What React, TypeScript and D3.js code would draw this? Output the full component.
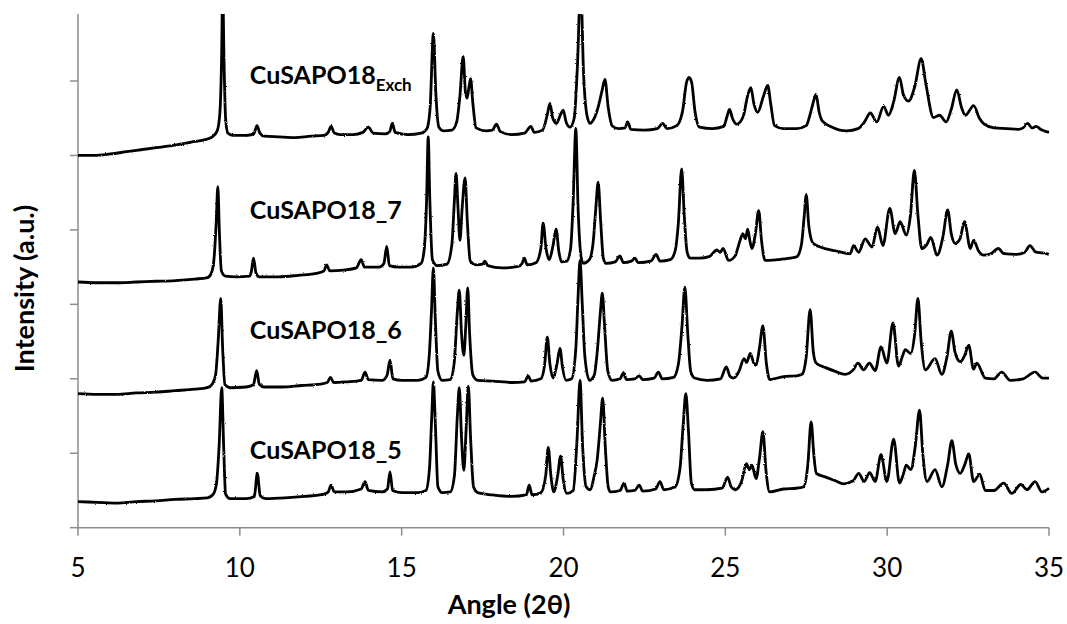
import React from 'react';
import * as d3 from 'd3';

type P = [number, number];

// Angle (2θ) tick labels
const xTicks = [5, 10, 15, 20, 25, 30, 35];
// Intensity ticks (unlabelled)
const yTicks = [0, 1, 2, 3, 4, 5, 6];

// Series names
const names = ['CuSAPO18_5', 'CuSAPO18_6', 'CuSAPO18_7', 'CuSAPO18Exch'];

// Stacked patterns: [2θ, intensity (a.u., offset included)]
const cuSapo18_5: P[] = [
  [5.0,0.35],[5.6,0.34],[6.2,0.33],[6.8,0.35],[7.4,0.36],[8.0,0.38],[8.6,0.39],[9.0,0.40],[9.18,0.45],[9.28,0.6],[9.36,1.1],[9.44,1.88],[9.5,1.1],[9.56,0.45],[9.7,0.39],
  [10.2,0.39],[10.45,0.42],[10.54,0.73],[10.63,0.43],[10.8,0.39],[11.4,0.40],[12.0,0.42],[12.6,0.45],[12.73,0.48],[12.82,0.57],[12.92,0.48],[13.3,0.48],[13.75,0.52],[13.87,0.62],[13.97,0.50],
  [14.4,0.48],[14.56,0.52],[14.64,0.75],[14.72,0.50],[15.0,0.47],[15.5,0.47],[15.75,0.50],[15.86,0.8],[15.93,1.5],[15.98,1.96],[16.04,1.4],[16.12,0.55],[16.25,0.47],[16.5,0.48],
  [16.63,0.7],[16.72,1.5],[16.78,1.88],[16.85,1.2],[16.92,0.77],[16.99,1.3],[17.06,1.90],[17.13,1.2],[17.22,0.55],[17.35,0.47],[17.8,0.44],[18.4,0.42],[18.85,0.44],[18.94,0.57],[19.03,0.44],
  [19.3,0.47],[19.45,0.7],[19.53,1.08],[19.61,0.7],[19.7,0.48],[19.82,0.7],[19.91,0.96],[19.99,0.65],[20.1,0.46],[20.3,0.5],[20.42,1.2],[20.51,1.98],[20.59,1.1],[20.7,0.55],[20.82,0.51],
  [20.95,0.7],[21.04,0.91],[21.14,1.4],[21.21,1.74],[21.29,1.1],[21.38,0.55],[21.45,0.48],[21.75,0.50],[21.87,0.60],[21.97,0.49],[22.2,0.50],[22.34,0.57],[22.45,0.49],[22.85,0.52],[22.98,0.62],[23.1,0.51],
  [23.45,0.55],[23.6,0.8],[23.7,1.4],[23.78,1.80],[23.86,1.3],[23.95,0.6],[24.05,0.51],[24.43,0.51],[24.9,0.53],[25.07,0.68],[25.18,0.55],[25.31,0.51],[25.5,0.62],[25.65,0.86],[25.75,0.78],[25.82,0.84],
  [25.95,0.66],[26.06,0.95],[26.16,1.29],[26.26,0.75],[26.37,0.48],[26.8,0.52],[27.2,0.53],[27.42,0.55],[27.55,0.85],[27.65,1.42],[27.74,0.95],[27.81,0.73],[28.1,0.68],[28.4,0.63],[28.65,0.59],
  [28.95,0.63],[29.12,0.73],[29.29,0.62],[29.46,0.74],[29.63,0.62],[29.81,0.98],[29.99,0.62],[30.2,1.19],[30.38,0.60],[30.5,0.72],[30.59,0.84],[30.73,0.78],[30.87,1.1],[31.0,1.58],[31.1,1.0],
  [31.23,0.62],[31.48,0.78],[31.69,0.55],[31.87,0.85],[32.0,1.17],[32.12,0.85],[32.26,0.73],[32.4,0.85],[32.52,0.99],[32.67,0.62],[32.86,0.72],[33.03,0.50],[33.3,0.50],[33.6,0.60],[33.85,0.46],
  [34.13,0.58],[34.32,0.51],[34.57,0.62],[34.78,0.48],[35.0,0.53],
];

const cuSapo18_6: P[] = [
  [5.0,1.80],[5.6,1.79],[6.2,1.79],[6.8,1.81],[7.4,1.82],[8.0,1.84],[8.6,1.86],[9.0,1.88],[9.15,1.93],[9.25,2.05],[9.33,2.5],[9.41,3.08],[9.47,2.4],[9.54,1.92],[9.7,1.88],
  [10.2,1.89],[10.42,1.92],[10.52,2.11],[10.6,1.93],[10.75,1.89],[11.3,1.89],[11.9,1.91],[12.5,1.93],[12.7,1.95],[12.8,2.02],[12.9,1.95],[13.3,1.96],[13.75,1.98],[13.87,2.09],[13.97,1.99],
  [14.4,1.98],[14.55,2.05],[14.64,2.25],[14.73,2.0],[15.0,1.98],[15.5,1.98],[15.75,2.02],[15.85,2.3],[15.92,2.9],[15.98,3.49],[16.04,2.8],[16.12,2.1],[16.25,1.98],[16.5,1.99],
  [16.62,2.2],[16.72,2.9],[16.78,3.19],[16.85,2.6],[16.92,2.32],[16.98,2.7],[17.04,3.22],[17.1,2.6],[17.2,2.05],[17.35,1.98],[17.8,1.97],[18.4,1.95],[18.8,1.96],[18.91,2.04],[19.0,1.97],
  [19.3,2.0],[19.42,2.2],[19.50,2.56],[19.58,2.2],[19.68,2.01],[19.8,2.2],[19.89,2.41],[19.97,2.15],[20.08,1.98],[20.25,2.0],[20.38,2.4],[20.45,3.1],[20.51,3.59],[20.58,3.0],[20.66,2.3],[20.8,1.98],
  [20.95,2.05],[21.05,2.4],[21.14,2.9],[21.2,3.15],[21.27,2.7],[21.37,2.1],[21.5,1.98],[21.75,2.0],[21.85,2.08],[21.95,1.99],[22.2,2.0],[22.34,2.04],[22.45,1.99],[22.8,2.01],[22.93,2.09],[23.05,2.0],
  [23.4,2.02],[23.55,2.2],[23.66,2.7],[23.75,3.23],[23.84,2.6],[23.93,2.1],[24.05,2.01],[24.43,1.98],[24.85,2.0],[25.03,2.16],[25.15,2.03],[25.26,2.01],[25.42,2.1],[25.58,2.27],[25.66,2.22],[25.77,2.34],
  [25.87,2.22],[25.95,2.18],[26.05,2.4],[26.16,2.71],[26.27,2.2],[26.37,1.99],[26.8,2.03],[27.2,2.04],[27.37,2.06],[27.5,2.3],[27.62,2.93],[27.72,2.35],[27.81,2.21],[28.1,2.15],[28.4,2.10],[28.7,2.06],
  [28.95,2.12],[29.10,2.21],[29.27,2.12],[29.45,2.21],[29.63,2.11],[29.81,2.43],[29.99,2.21],[30.18,2.75],[30.35,2.17],[30.47,2.30],[30.56,2.39],[30.73,2.34],[30.85,2.6],[30.95,3.08],[31.05,2.5],
  [31.18,2.12],[31.48,2.27],[31.69,2.06],[31.85,2.3],[31.98,2.64],[32.1,2.35],[32.26,2.23],[32.4,2.32],[32.52,2.45],[32.67,2.13],[32.77,2.21],[33.03,2.01],[33.3,2.0],[33.54,2.09],[33.8,1.98],
  [34.2,2.0],[34.57,2.09],[34.8,2.01],[35.0,2.01],
];

const cuSapo18_7: P[] = [
  [5.0,3.30],[5.6,3.29],[6.2,3.29],[6.8,3.30],[7.4,3.31],[8.0,3.32],[8.6,3.34],[9.0,3.36],[9.12,3.42],[9.2,3.6],[9.27,4.1],[9.32,4.58],[9.37,3.95],[9.43,3.45],[9.55,3.38],[9.9,3.37],
  [10.3,3.38],[10.36,3.45],[10.42,3.62],[10.5,3.42],[10.6,3.37],[11.2,3.37],[11.8,3.39],[12.4,3.42],[12.6,3.45],[12.68,3.53],[12.78,3.45],[13.2,3.46],[13.6,3.49],[13.75,3.60],[13.85,3.50],
  [14.3,3.50],[14.45,3.55],[14.54,3.78],[14.62,3.52],[14.9,3.50],[15.3,3.50],[15.6,3.55],[15.7,3.75],[15.77,4.4],[15.82,5.25],[15.87,4.4],[15.95,3.6],[16.1,3.52],[16.4,3.54],
  [16.55,3.8],[16.63,4.4],[16.68,4.76],[16.74,4.3],[16.80,3.86],[16.87,4.3],[16.96,4.70],[17.03,4.1],[17.12,3.58],[17.3,3.53],[17.5,3.54],[17.57,3.58],[17.66,3.52],[18.1,3.49],[18.6,3.51],
  [18.72,3.55],[18.79,3.62],[18.88,3.53],[19.15,3.56],[19.3,3.75],[19.37,4.09],[19.46,3.75],[19.56,3.60],[19.68,3.8],[19.77,4.01],[19.86,3.70],[19.94,3.57],[20.1,3.58],[20.22,3.75],[20.3,4.4],
  [20.38,5.36],[20.45,4.3],[20.54,3.65],[20.61,3.55],[20.8,3.60],[20.92,3.85],[21.0,4.3],[21.07,4.64],[21.15,4.1],[21.23,3.62],[21.31,3.55],[21.6,3.57],[21.74,3.65],[21.85,3.56],[22.1,3.58],
  [22.21,3.62],[22.3,3.56],[22.7,3.58],[22.86,3.67],[22.98,3.58],[23.3,3.60],[23.45,3.72],[23.55,4.1],[23.65,4.82],[23.73,4.2],[23.82,3.70],[23.91,3.62],[24.2,3.62],[24.5,3.64],[24.74,3.73],
  [24.84,3.70],[24.93,3.75],[25.1,3.59],[25.3,3.65],[25.45,3.85],[25.54,3.95],[25.62,3.88],[25.69,4.01],[25.76,3.85],[25.82,3.75],[25.93,3.95],[26.03,4.26],[26.12,3.85],[26.23,3.59],[26.6,3.60],
  [27.0,3.62],[27.21,3.64],[27.35,3.8],[27.44,4.2],[27.50,4.47],[27.58,4.05],[27.71,3.82],[28.0,3.76],[28.4,3.72],[28.86,3.68],[28.96,3.79],[29.12,3.70],[29.32,3.88],[29.53,3.77],[29.70,4.04],
  [29.87,3.79],[30.08,4.29],[30.25,3.95],[30.40,4.11],[30.59,3.93],[30.72,4.2],[30.84,4.80],[30.95,4.2],[31.07,3.75],[31.22,3.80],[31.35,3.90],[31.54,3.66],[31.72,3.9],[31.87,4.27],[31.98,3.95],
  [32.10,3.82],[32.25,3.88],[32.39,4.11],[32.57,3.75],[32.67,3.86],[32.82,3.72],[32.98,3.66],[33.2,3.68],[33.44,3.75],[33.6,3.68],[34.0,3.67],[34.25,3.70],[34.41,3.79],[34.6,3.70],[34.8,3.69],[35.0,3.67],
];

const cuSapo18Exch: P[] = [
  [5.0,5.00],[5.5,5.00],[6.0,5.02],[6.5,5.05],[7.0,5.08],[7.5,5.11],[8.0,5.14],[8.5,5.18],[8.9,5.21],[9.15,5.25],[9.3,5.33],[9.38,5.55],[9.44,6.4],[9.47,7.3],[9.51,6.3],[9.56,5.5],[9.63,5.30],
  [9.8,5.27],[10.2,5.27],[10.43,5.29],[10.53,5.40],[10.62,5.30],[10.75,5.26],[11.2,5.25],[11.7,5.24],[12.2,5.26],[12.6,5.27],[12.73,5.31],[12.82,5.39],[12.92,5.30],[13.1,5.28],[13.5,5.28],
  [13.8,5.31],[13.97,5.38],[14.12,5.30],[14.5,5.29],[14.63,5.32],[14.71,5.43],[14.8,5.31],[15.2,5.28],[15.6,5.30],[15.78,5.36],[15.88,5.65],[15.98,6.64],[16.06,5.8],[16.15,5.38],[16.3,5.33],
  [16.55,5.34],[16.7,5.45],[16.8,5.8],[16.9,6.33],[16.97,5.85],[17.02,5.77],[17.08,5.92],[17.13,6.03],[17.2,5.7],[17.3,5.37],[17.6,5.33],[17.8,5.34],[17.93,5.42],[18.05,5.32],[18.4,5.28],
  [18.8,5.30],[18.99,5.39],[19.1,5.31],[19.35,5.34],[19.5,5.55],[19.58,5.70],[19.67,5.50],[19.78,5.43],[19.92,5.56],[19.99,5.61],[20.08,5.45],[20.2,5.38],[20.33,5.50],[20.43,6.2],[20.53,7.3],
  [20.62,6.1],[20.72,5.55],[20.82,5.43],[20.95,5.50],[21.07,5.65],[21.18,5.85],[21.28,6.02],[21.38,5.65],[21.5,5.40],[21.7,5.36],[21.9,5.37],[21.98,5.45],[22.08,5.35],[22.5,5.34],[22.9,5.36],
  [23.06,5.43],[23.2,5.36],[23.5,5.40],[23.68,5.60],[23.8,5.98],[23.88,6.05],[23.96,5.98],[24.06,5.60],[24.2,5.38],[24.6,5.36],[24.95,5.39],[25.05,5.52],[25.13,5.62],[25.22,5.50],[25.35,5.42],
  [25.55,5.52],[25.7,5.82],[25.79,5.91],[25.88,5.70],[26.0,5.58],[26.18,5.80],[26.31,5.94],[26.4,5.70],[26.52,5.40],[26.8,5.36],[27.2,5.36],[27.5,5.40],[27.6,5.52],[27.72,5.72],[27.80,5.82],
  [27.9,5.58],[28.0,5.46],[28.3,5.38],[28.75,5.33],[29.1,5.36],[29.3,5.45],[29.48,5.57],[29.68,5.45],[29.89,5.66],[30.04,5.54],[30.2,5.72],[30.38,6.05],[30.5,5.82],[30.66,5.73],[30.85,5.92],
  [31.05,6.30],[31.2,5.95],[31.43,5.51],[31.62,5.54],[31.82,5.45],[31.98,5.62],[32.15,5.88],[32.3,5.64],[32.42,5.54],[32.67,5.67],[32.85,5.50],[33.0,5.42],[33.3,5.37],[33.7,5.36],[34.05,5.35],
  [34.2,5.37],[34.34,5.43],[34.48,5.37],[34.6,5.39],[34.75,5.35],[35.0,5.31],
];

const seriesData: P[][] = [cuSapo18_5, cuSapo18_6, cuSapo18_7, cuSapo18Exch];
// label anchors (2θ, intensity) for each series name
const labelAnchor: P[] = [[10.31, 0.92], [10.31, 2.53], [10.31, 4.14], [10.31, 5.965]];

const W = 1067;
const H = 624;
const M = { left: 78, right: 18, top: 14, bottom: 96.3 };

export default function App() {
  const x = d3.scaleLinear().domain([5, 35]).range([M.left, W - M.right]);
  const y = d3.scaleLinear().domain([0, 6.9]).range([H - M.bottom, M.top]);
  const line = d3.line<P>().x(d => x(d[0])).y(d => y(d[1])).curve(d3.curveMonotoneX);
  const axisColor = '#8c8c8c';
  const y0 = y(0);
  const font = 'Lato, "Open Sans", sans-serif';

  return (
    <div style={{ position: 'absolute', left: 0, top: 0 }}>
      <svg width={W} height={H} style={{ display: 'block', background: '#fff' }}>
        <defs>
          <clipPath id="plotClip">
            <rect x={M.left} y={M.top} width={W - M.left - M.right + 4} height={H - M.top - M.bottom} />
          </clipPath>
          <filter id="rough" x="-2%" y="-5%" width="104%" height="110%">
            <feTurbulence type="fractalNoise" baseFrequency="0.9" numOctaves={1} seed={3} result="n" />
            <feDisplacementMap in="SourceGraphic" in2="n" scale={2.2} xChannelSelector="R" yChannelSelector="G" />
          </filter>
        </defs>
        {/* axes */}
        <line x1={x(5)} x2={x(5)} y1={M.top} y2={y0} stroke={axisColor} strokeWidth={1.5} />
        <line x1={x(5)} x2={x(35)} y1={y0} y2={y0} stroke={axisColor} strokeWidth={1.5} />
        {yTicks.map(t => (
          <line key={'yt' + t} x1={x(5) - 8} x2={x(5)} y1={y(t)} y2={y(t)} stroke={axisColor} strokeWidth={1.5} />
        ))}
        {xTicks.map(t => (
          <g key={'xt' + t}>
            <line x1={x(t)} x2={x(t)} y1={y0} y2={y0 + 8} stroke={axisColor} strokeWidth={1.5} />
            <text x={x(t)} y={y0 + 49} textAnchor="middle" fontFamily={font} fontSize={26} fill="#000">{t}</text>
          </g>
        ))}
        {/* series */}
        <g clipPath="url(#plotClip)">
          <g filter="url(#rough)">
            {seriesData.map((s, i) => (
              <path key={names[i]} d={line(s) || ''} fill="none" stroke="#000" strokeWidth={2.8} strokeLinejoin="round" />
            ))}
          </g>
        </g>
        {/* labels */}
        {names.map((n, i) => {
          const [lx, ly] = labelAnchor[i];
          if (n === 'CuSAPO18Exch') {
            return (
              <text key={n} x={x(lx)} y={y(ly)} fontFamily={font} fontWeight={700} fontSize={25} fill="#000">
                CuSAPO18<tspan fontSize={17} dy={7}>Exch</tspan>
              </text>
            );
          }
          return (
            <text key={n} x={x(lx)} y={y(ly)} fontFamily={font} fontWeight={700} fontSize={25} fill="#000">{n}</text>
          );
        })}
        {/* axis titles */}
        <text x={509} y={614} textAnchor="middle" fontFamily={font} fontWeight={700} fontSize={27} fill="#000">Angle (2θ)</text>
        <text transform="translate(34,288.5) rotate(-90)" textAnchor="middle" fontFamily={font} fontWeight={700} fontSize={27} fill="#000">Intensity (a.u.)</text>
      </svg>
    </div>
  );
}
